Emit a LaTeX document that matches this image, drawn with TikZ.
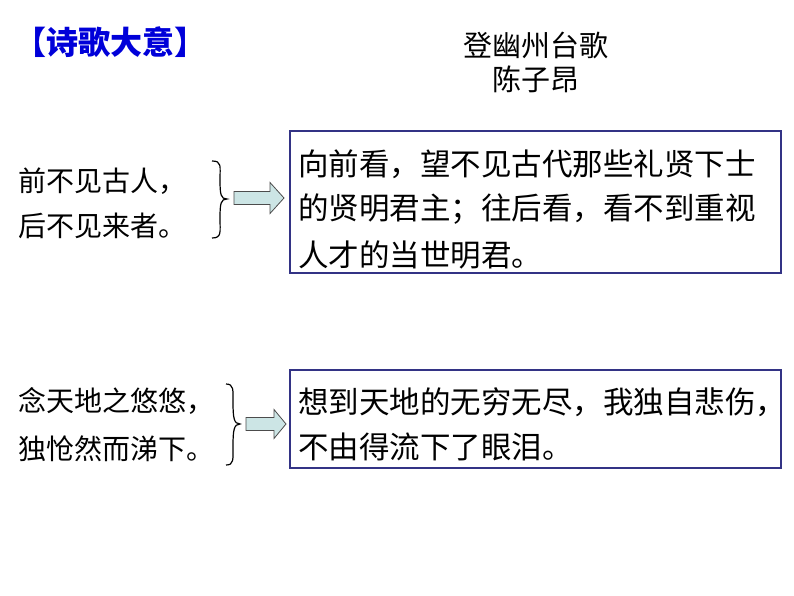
\documentclass[tikz,border=0pt]{standalone}
\usepackage{fontspec}
\setmainfont{Noto Sans CJK SC}
\begin{document}
\begin{tikzpicture}[x=1pt,y=-1pt,
  txt/.style={anchor=west,inner sep=0pt,font=\fontsize{28}{30}\selectfont},
  btxt/.style={anchor=west,inner sep=0pt,font=\fontsize{30.5}{32}\selectfont},
  box/.style={draw=blue!40!black!80,line width=2pt},
  arr/.style={draw=black!70,fill=teal!20,line width=0.8pt}]
\useasboundingbox (0,0) rectangle (794,596);
\node[anchor=west,inner sep=0pt,text=blue!85!black,font=\fontsize{32}{34}\selectfont\bfseries] (title) at (14,42) {【诗歌大意】};
\node[inner sep=0pt,font=\fontsize{29}{31}\selectfont] (poem) at (536,45) {登幽州台歌};
\node[inner sep=0pt,font=\fontsize{29}{31}\selectfont] (author) at (536,79) {陈子昂};
\draw[box] (290,131) rectangle (781,273);
\node[btxt] (a1) at (298,164) {向前看，望不见古代那些礼贤下士};
\node[btxt] (a2) at (298,209) {的贤明君主；往后看，看不到重视};
\node[btxt] (a3) at (298,255) {人才的当世明君。};
\node[txt] (l1) at (18,181) {前不见古人，};
\node[txt] (l2) at (18,226) {后不见来者。};
\draw[line width=1.2pt] (212,161) .. controls (222,161) and (220,166) .. (220,180) .. controls (220,195) and (221,199) .. (227,199) .. controls (221,199) and (220,203) .. (220,218) .. controls (220,232) and (222,238) .. (212,238);
\coordinate (ar1) at (234,198);
\draw[arr] (ar1) ++(0,-6.5) -- ++(36,0) -- ++(0,-9) -- ++(14,15.5) -- ++(-14,15.5) -- ++(0,-9) -- ++(-36,0) -- cycle;
\draw[box] (290,370) rectangle (781,468);
\node[btxt] (b1) at (298,402) {想到天地的无穷无尽，我独自悲伤，};
\node[btxt] (b2) at (298,447) {不由得流下了眼泪。};
\node[txt] (m1) at (18,401) {念天地之悠悠，};
\node[txt] (m2) at (18,449) {独怆然而涕下。};
\draw[line width=1.2pt] (226,384) .. controls (234,384) and (233,390) .. (233,402) .. controls (233,418) and (234,424) .. (240,424) .. controls (234,424) and (233,430) .. (233,446) .. controls (233,460) and (234,465) .. (226,465);
\coordinate (ar2) at (246,424);
\draw[arr] (ar2) ++(0,-6.5) -- ++(28,0) -- ++(0,-8) -- ++(12,14.5) -- ++(-12,14.5) -- ++(0,-8) -- ++(-28,0) -- cycle;
\end{tikzpicture}
\end{document}
